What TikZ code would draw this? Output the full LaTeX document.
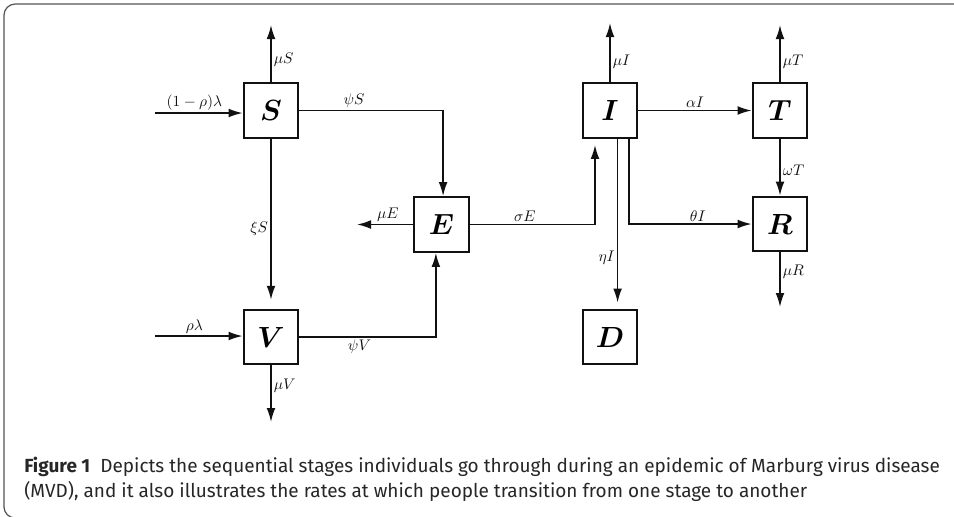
\documentclass[tikz,border=0pt]{standalone}
\usepackage{fontspec}
\usepackage{bm}
\setsansfont{Fira Sans}
\usetikzlibrary{arrows.meta, positioning, calc}
\definecolor{dark}{HTML}{111111}
\definecolor{framegray}{HTML}{555555}
\tikzset{
  compartment/.style={rectangle, draw=dark, line width=1.4pt, fill=white,
                      minimum width=1.37cm, minimum height=1.37cm, inner sep=0pt,
                      font=\fontsize{21}{24}\selectfont},
  flow/.style={-{Latex[length=3.5mm, width=2.2mm]}, draw=dark, line width=1.15pt},
  rate/.style={font=\fontsize{10.5}{12}\selectfont, text=dark, inner sep=1.5pt},
  frameline/.style={draw=framegray, line width=0.9pt, rounded corners=0.28cm},
  caption/.style={font=\sffamily\fontsize{13.5}{17.8}\selectfont, text=black!85,
                  align=left, inner sep=0pt},
}

\begin{document}
\begin{tikzpicture}[x=0.025cm, y=-0.025cm]
\useasboundingbox (0,0) rectangle (954,516);

% --- outer frame (open to the right) ---
\draw[frameline] (960,4) -- (4,4) -- (4,518) -- (960,518);

% --- compartments ---
\node[compartment] (S) at (271,110.5) {$\bm{S}$};
\node[compartment] (V) at (271,337)   {$\bm{V}$};
\node[compartment] (E) at (441.5,224.5) {$\bm{E}$};
\node[compartment] (I) at (610,110.5) {$\bm{I}$};
\node[compartment] (T) at (780,110.5) {$\bm{T}$};
\node[compartment] (R) at (780,224)   {$\bm{R}$};
\node[compartment] (D) at (610,337)   {$\bm{D}$};

% --- free ends of inflows and outflows ---
\coordinate (inS)  at (155,113);
\coordinate (inV)  at (155,336);
\coordinate (outS) at (271,25);
\coordinate (outV) at (271,422);
\coordinate (outE) at (357,224.5);
\coordinate (outI) at (610,23);
\coordinate (outT) at (780,25);
\coordinate (outR) at (780,307);

% --- recruitment ---
\draw[flow] (inS) -- (inS -| S.west) node[rate, above, pos=0.45] {$(1-\rho)\lambda$};
\draw[flow] (inV) -- (inV -| V.west) node[rate, above, pos=0.45] {$\rho\lambda$};

% --- natural deaths ---
\draw[flow] (S.north) -- (outS) node[rate, right, pos=0.4]  {$\mu S$};
\draw[flow] (V.south) -- (outV) node[rate, right, pos=0.36] {$\mu V$};
\draw[flow] (E.west)  -- (outE) node[rate, above, pos=0.45] {$\mu E$};
\draw[flow] (I.north) -- (outI) node[rate, right, pos=0.34] {$\mu I$};
\draw[flow] (T.north) -- (outT) node[rate, right, pos=0.35] {$\mu T$};
\draw[flow] (R.south) -- (outR) node[rate, right, pos=0.36] {$\mu R$};

% --- transitions ---
\draw[flow] (S.east) -| ([xshift=0.04cm]E.north) node[rate, above, pos=0.19] {$\psi S$};
\draw[flow, shorten >=0.22cm] (S.south) -- (V.north) node[rate, left, pos=0.53] {$\xi S$};
\draw[flow] (V.east) -| ([xshift=-0.14cm]E.south) node[rate, below, pos=0.22] {$\psi V$};
\draw[flow, shorten >=0.15cm] (E.east) -| ([xshift=-0.375cm]I.south) node[rate, above, pos=0.22] {$\sigma E$};
\draw[flow] (I.east) -- (T.west) node[rate, above, pos=0.5] {$\alpha I$};
\draw[flow] (T.south) -- (R.north) node[rate, right, pos=0.55] {$\omega T$};
\draw[flow] ([xshift=0.48cm]I.south) |- (R.west) node[rate, above, pos=0.78] {$\theta I$};
\draw[flow, shorten >=0.15cm] ([xshift=0.19cm]I.south) -- ([xshift=0.19cm]D.north) node[rate, left, pos=0.7] {$\eta I$};

% --- caption ---
\node[caption, anchor=north west] (cap) at (24,457)
  {\textbf{Figure 1}\ \ Depicts the sequential stages individuals go through during an epidemic of Marburg virus disease\\
   (MVD), and it also illustrates the rates at which people transition from one stage to another};

\end{tikzpicture}
\end{document}
